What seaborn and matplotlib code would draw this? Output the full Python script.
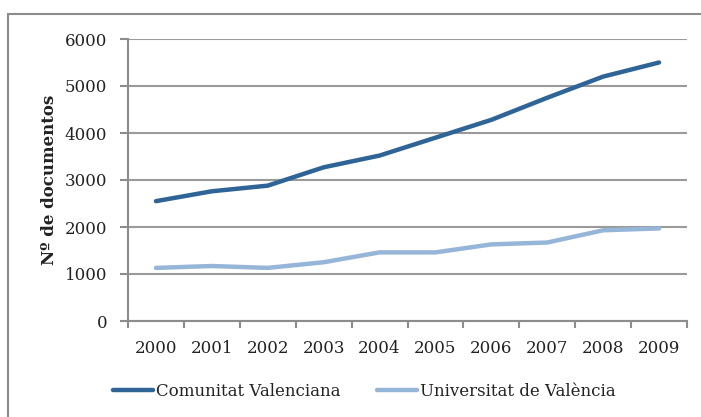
import matplotlib
matplotlib.use("Agg")
import matplotlib.pyplot as plt
import seaborn as sns
import pandas as pd
from matplotlib.patches import Rectangle
from matplotlib.lines import Line2D

years = ["2000", "2001", "2002", "2003", "2004", "2005", "2006", "2007", "2008", "2009"]
comunitat = [2550, 2760, 2880, 3270, 3520, 3900, 4280, 4750, 5200, 5500]
universitat = [1130, 1170, 1130, 1250, 1460, 1460, 1630, 1670, 1930, 1970]
series_names = ["Comunitat Valenciana", "Universitat de València"]
colors = ["#2F6497", "#95B6D9"]

sns.set_theme(style="white")
plt.rcParams["font.family"] = ["DejaVu Serif"]
FS = 12
TXT = "#222222"

df = pd.DataFrame({
    "x": list(range(len(years))) * 2,
    "value": comunitat + universitat,
    "serie": [series_names[0]] * len(years) + [series_names[1]] * len(years),
})

fig = plt.figure(figsize=(7.01, 4.17), dpi=100)
fig.patches.append(Rectangle((8 / 701, -0.5), 2, 1.5 - 14 / 417, transform=fig.transFigure,
                             fill=False, edgecolor="#8C8C8C", linewidth=1.5))
ax = fig.add_axes([128 / 701, 1 - 321 / 417, (687 - 128) / 701, (321 - 39) / 417])

sns.lineplot(data=df, x="x", y="value", hue="serie", palette=colors, linewidth=3.2,
             ax=ax, legend=False)
for lc in ax.get_lines():
    lc.set_solid_capstyle("round")

ax.set_xlim(-0.5, 9.5)
ax.set_ylim(0, 6000)
ax.set_yticks(range(0, 6001, 1000))
ax.set_xticks([i - 0.5 for i in range(len(years) + 1)])
ax.set_xticklabels([])
ax.set_xticks(range(len(years)), minor=True)
ax.set_xticklabels(years, minor=True)
ax.tick_params(axis="x", which="minor", length=0, pad=14, labelsize=FS, colors=TXT)
ax.tick_params(axis="x", which="major", length=5, width=1.5, color="#8C8C8C", direction="out")
ax.tick_params(axis="y", length=6, width=1.5, color="#8C8C8C", direction="out", pad=9,
               labelsize=FS, labelcolor=TXT)
ax.tick_params(left=True, bottom=True)
ax.xaxis.set_tick_params(which="both", bottom=True)
ax.yaxis.grid(True, color="#9A9A9A", linewidth=1.5)
ax.set_axisbelow(True)
for s in ["top", "right"]:
    ax.spines[s].set_visible(False)
for s in ["left", "bottom"]:
    ax.spines[s].set_color("#8C8C8C")
    ax.spines[s].set_linewidth(1.5)
ax.set_xlabel("")
ax.set_ylabel("Nº de documentos", fontsize=FS, fontweight="bold", color=TXT, labelpad=5)

for name, col, x0 in zip(series_names, colors, [113, 377]):
    fig.legend([Line2D([], [], color=col, linewidth=3.2)], [name], loc="center left",
               bbox_to_anchor=(x0 / 701, 1 - 391 / 417), frameon=False, fontsize=FS,
               handlelength=40 / (FS * 100 / 72), handletextpad=0.18, borderpad=0,
               borderaxespad=0, labelcolor=TXT)

fig.savefig("out.png", dpi=100)
